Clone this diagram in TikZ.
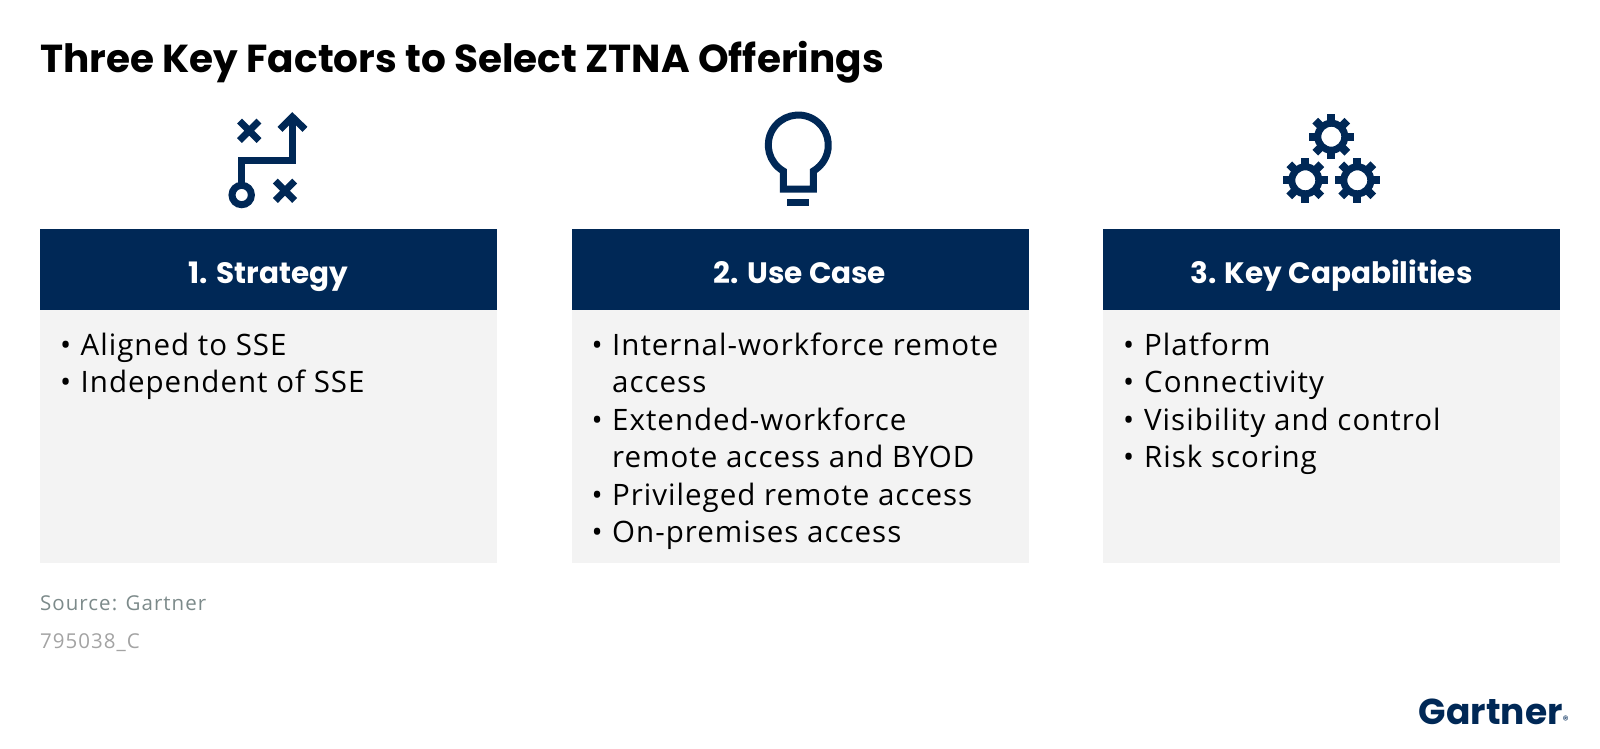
\documentclass[tikz,border=0pt]{standalone}
\usepackage{fontspec}
\setmainfont{Open Sans}
\newfontfamily\headfont{Poppins}
\newfontfamily\itemfont[LetterSpace=3.4]{Open Sans}
\newfontfamily\notefont[LetterSpace=5]{Open Sans}
\definecolor{navy}{HTML}{002856}
\definecolor{panel}{HTML}{F3F3F3}
\definecolor{srcgray}{HTML}{7C8A8A}
\definecolor{codegray}{HTML}{A3A3A3}
\tikzset{
  headbox/.style={fill=navy, text=white, minimum width=457pt, minimum height=81pt, inner sep=0pt, text height=32pt, text depth=5pt, font=\headfont\bfseries\fontsize{29.5}{34}\selectfont},
  bodybox/.style={fill=panel, minimum width=457pt, minimum height=253pt, inner sep=0pt},
  item/.style={anchor=base west, inner sep=0pt, font=\itemfont\fontsize{29.5}{37.5}\selectfont, text=black},
  note/.style={anchor=base west, inner sep=0pt, font=\notefont\fontsize{20.5}{24}\selectfont},
  icon/.style={draw=navy, line width=7pt}
}
\begin{document}
\begin{tikzpicture}[x=1pt, y=-1pt]
\useasboundingbox (0,0) rectangle (1600,748);

% Title
\node[anchor=base west, inner sep=0pt, font=\headfont\bfseries\fontsize{39}{44}\selectfont] (title) at (40,72) {Three Key Factors to Select ZTNA Offerings};

% Boxes
\node[bodybox] (body1) at (268.5,436.5) {};
\node[headbox] (head1) at (268.5,269.5) {1. Strategy};
\node[bodybox] (body2) at (800,436.5) {};
\node[headbox] (head2) at (800,269.5) {2. Use Case};
\node[bodybox] (body3) at (1331.5,436.5) {};
\node[headbox] (head3) at (1331.5,269.5) {3. Key Capabilities};

% First list
\node[item] (b11) at (60,355) {•};
\node[item] (t11) at (80.5,355) {Aligned to SSE};
\node[item] (b12) at (60,392.5) {•};
\node[item] (t12) at (80.5,392.5) {Independent of SSE};

% Second list
\node[item] (b21) at (591.5,355) {•};
\node[item] (t21) at (612,355) {Internal-workforce remote};
\node[item] (t21b) at (612,392.5) {access};
\node[item] (b22) at (591.5,430) {•};
\node[item] (t22) at (612,430) {Extended-workforce};
\node[item] (t22b) at (612,467.5) {remote access and BYOD};
\node[item] (b23) at (591.5,505) {•};
\node[item] (t23) at (612,505) {Privileged remote access};
\node[item] (b24) at (591.5,542.5) {•};
\node[item] (t24) at (612,542.5) {On-premises access};

% Third list
\node[item] (b31) at (1123,355) {•};
\node[item] (t31) at (1144,355) {Platform};
\node[item] (b32) at (1123,392.5) {•};
\node[item] (t32) at (1144,392.5) {Connectivity};
\node[item] (b33) at (1123,430) {•};
\node[item] (t33) at (1144,430) {Visibility and control};
\node[item] (b34) at (1123,467.5) {•};
\node[item] (t34) at (1144,467.5) {Risk scoring};

% Strategy icon
\draw[icon] (241.7,186) -- (241.7,160) -- (292.3,160) -- (292.3,118);
\draw[icon] (280,129.3) -- (292.3,117) -- (305,129.3);
\draw[icon] (241.7,195) circle (9.7);
\draw[icon] (239.5,121) -- (259,140.5) (259,121) -- (239.5,140.5);
\draw[icon] (275.3,181) -- (294.7,200.5) (294.7,181) -- (275.3,200.5);

% Bulb icon
\draw[icon] (783.3,189) -- (783.3,171) arc (120:420:30) -- (813.3,189) -- cycle;
\draw[icon] (787.3,202.3) -- (809.3,202.3);

% Gear icon
\foreach \gx/\gy in {1331.3/136.7, 1305.3/180.3, 1357.3/180.3} {
  \draw[icon] (\gx,\gy) circle (13.5);
  \foreach \ang in {0,45,...,315}
    \draw[navy, line width=8pt] (\gx,\gy) ++(\ang:15) -- ++(\ang:7.7);
}

% Footer
\node[note, text=srcgray] (source) at (40,610) {Source: Gartner};
\node[note, text=codegray] (code) at (40,648) {795038\_C};
\node[anchor=base east, inner sep=0pt, text=navy, font=\headfont\bfseries\fontsize{36}{42}\selectfont] (logo) at (1569,724.5) {Gartner\fontsize{12}{12}\selectfont\mdseries ®};
\end{tikzpicture}
\end{document}
